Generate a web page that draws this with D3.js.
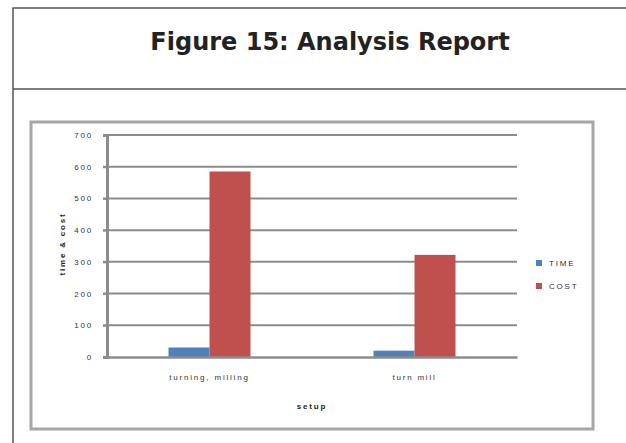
<!DOCTYPE html>
<html>
<head>
<meta charset="utf-8">
<script src="https://cdn.jsdelivr.net/npm/d3@7"></script>
<style>
  body { margin: 0; background: #fff; }
  svg { display: block; }
</style>
</head>
<body>
<div id="chart"></div>
<script>
// values
const categories = ["turning, milling", "turn mill"];
const seriesNames = ["TIME", "COST"];
const timeValues = [30, 20];
const costValues = [585, 322];
const yTicks = [0, 100, 200, 300, 400, 500, 600, 700];
const colors = ["#4f81bd", "#c0504d"];

const width = 626, height = 443;

const svg = d3.select("#chart").append("svg")
    .attr("width", width)
    .attr("height", height);

// outer table with title row
svg.append("rect")
    .attr("x", 13).attr("y", 8)
    .attr("width", 700).attr("height", 500)
    .attr("fill", "none")
    .attr("stroke", "#555")
    .attr("stroke-width", 1.5);

svg.append("line")
    .attr("x1", 13).attr("x2", 700)
    .attr("y1", 89).attr("y2", 89)
    .attr("stroke", "#555")
    .attr("stroke-width", 1.5);

svg.append("text")
    .attr("x", 330)
    .attr("y", 50)
    .attr("text-anchor", "middle")
    .style("font-family", "'DejaVu Sans', Verdana, sans-serif")
    .style("font-size", "24px")
    .style("font-weight", "bold")
    .style("fill", "#222")
    .text("Figure 15: Analysis Report");

// chart frame
svg.append("rect")
    .attr("x", 31).attr("y", 122)
    .attr("width", 562).attr("height", 307)
    .attr("fill", "#fff")
    .attr("stroke", "#a6a6a6")
    .attr("stroke-width", 3);

const plot = { left: 107, right: 517, top: 135, bottom: 357 };

const x0 = d3.scaleBand()
    .domain(categories)
    .range([plot.left, plot.right])
    .paddingInner(0.6)
    .paddingOuter(0.3);

const x1 = d3.scaleBand()
    .domain(seriesNames)
    .range([0, x0.bandwidth()]);

const y = d3.scaleLinear()
    .domain([0, 700])
    .range([plot.bottom, plot.top]);

const smallFont = "'Liberation Sans', Arial, sans-serif";

function smallText(sel) {
    sel.style("font-family", smallFont)
        .style("font-size", "8px")
        .style("letter-spacing", "1.8px")
        .style("fill", "#333");
}

// gridlines
svg.append("g")
    .selectAll("line")
    .data(yTicks.filter(d => d > 0))
    .enter().append("line")
    .attr("x1", plot.left - 4)
    .attr("x2", plot.right)
    .attr("y1", d => y(d))
    .attr("y2", d => y(d))
    .attr("stroke", "#8c8c8c")
    .attr("stroke-width", 2);

// y axis
const yAxis = svg.append("g")
    .attr("transform", `translate(${plot.left},0)`)
    .call(d3.axisLeft(y).tickValues(yTicks).tickSize(4).tickPadding(10));
yAxis.select(".domain").attr("stroke", "#8c8c8c").attr("stroke-width", 3);
yAxis.selectAll(".tick line").attr("stroke", "#8c8c8c").attr("stroke-width", 2);
yAxis.selectAll(".tick text").call(smallText);

// bars
const rows = categories.map((c, i) => ({ cat: c, values: [timeValues[i], costValues[i]] }));

svg.append("g")
    .selectAll("g")
    .data(rows)
    .enter().append("g")
    .attr("transform", d => `translate(${x0(d.cat)},0)`)
    .selectAll("rect")
    .data(d => d.values.map((v, j) => ({ key: seriesNames[j], value: v, idx: j })))
    .enter().append("rect")
    .attr("x", d => x1(d.key))
    .attr("y", d => y(d.value))
    .attr("width", x1.bandwidth())
    .attr("height", d => y(0) - y(d.value))
    .attr("fill", d => colors[d.idx]);

// x axis
const xAxis = svg.append("g")
    .attr("transform", `translate(0,${plot.bottom})`)
    .call(d3.axisBottom(x0).tickSize(0).tickPadding(17));
xAxis.select(".domain").attr("stroke", "#8c8c8c").attr("stroke-width", 2.5);
xAxis.selectAll(".tick text").call(smallText);

// axis titles
svg.append("text")
    .attr("x", (plot.left + plot.right) / 2)
    .attr("y", 409)
    .attr("text-anchor", "middle")
    .call(smallText)
    .style("font-weight", "bold")
    .style("fill", "#222")
    .text("setup");

svg.append("text")
    .attr("transform", `translate(65,${(plot.top + plot.bottom) / 2 - 2}) rotate(-90)`)
    .attr("text-anchor", "middle")
    .call(smallText)
    .style("font-weight", "bold")
    .style("fill", "#222")
    .text("time & cost");

// legend
const legend = svg.append("g")
    .selectAll("g")
    .data(seriesNames)
    .enter().append("g")
    .attr("transform", (d, i) => `translate(536,${260 + i * 23})`);

legend.append("rect")
    .attr("width", 6).attr("height", 6)
    .attr("fill", (d, i) => colors[i]);

legend.append("text")
    .attr("x", 13)
    .attr("y", 6)
    .call(smallText)
    .text(d => d);
</script>
</body>
</html>
